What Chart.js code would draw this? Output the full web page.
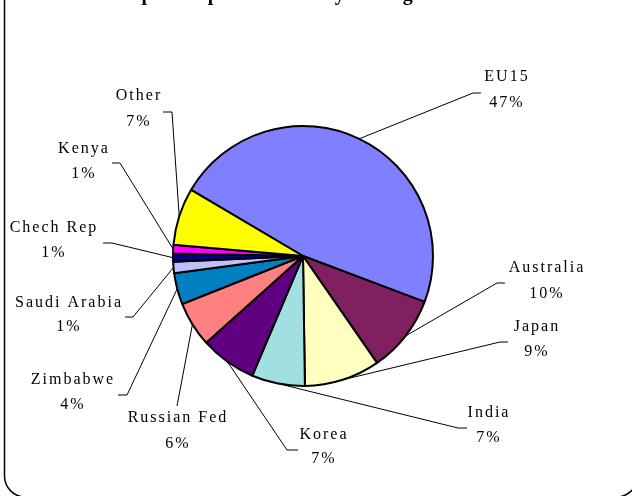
<!DOCTYPE html>
<html>
<head>
<meta charset="utf-8">
<script src="https://cdn.jsdelivr.net/npm/chart.js@4.4.1/dist/chart.umd.min.js"></script>
<style>
  html, body { margin: 0; padding: 0; background: #fff; }
  #wrap { width: 632px; height: 496px; }
</style>
</head>
<body>
<div id="wrap"><canvas id="pie" width="632" height="496"></canvas></div>
<script>
const titleText = 'Top ten export markets by trading bloc';
const regions = ['EU15', 'Australia', 'Japan', 'India', 'Korea', 'Russian Fed',
  'Zimbabwe', 'Saudi Arabia', 'Chech Rep', 'Kenya', 'Other'];
const shares = [47.2, 9.6, 9.4, 6.6, 7.0, 5.6, 3.9, 1.4, 1.0, 1.1, 7.1];
const shareLabels = ['47%', '10%', '9%', '7%', '7%', '6%', '4%', '1%', '1%', '1%', '7%'];
const sliceColors = ['#8080FF', '#802060', '#FFFFC0', '#A0E0E0', '#600080', '#FF8080',
  '#0080C0', '#C0C0FF', '#000080', '#FF00FF', '#FFFF00'];

// label placement: [text centre x, name y, percent y, elbow x near text, elbow x near pie, elbow y]
const labelLayout = [
  [506, 77, 103, 481, 473, 93],
  [546, 268, 294, 505, 497, 283],
  [536, 327, 352, 508, 500, 342],
  [488, 413, 438, 467, 458, 428],
  [323, 435, 459, 298, 287, 450],
  [177, 418, 444, 177, 177, 406],
  [72, 380, 405, 118, 127, 395],
  [68, 303, 327, 125, 133, 317],
  [53, 228, 253, 103, 112, 243],
  [83, 149, 174, 112, 120, 163],
  [138, 96, 122, 163, 172, 112]
];

const frame = {
  id: 'frame',
  beforeDraw: chart => {
    const ctx = chart.ctx;
    ctx.save();
    ctx.fillStyle = '#fff';
    ctx.fillRect(0, 0, chart.width, chart.height);
    ctx.beginPath();
    ctx.roundRect(4.5, -60, 633, 557, 21);
    ctx.strokeStyle = '#000';
    ctx.lineWidth = 1.5;
    ctx.stroke();
    // title sits mostly above the visible area, only descenders show
    ctx.font = 'bold 18px "Liberation Serif"';
    const firstP = ctx.measureText('To').width + ctx.measureText('p').width / 2;
    const lastG = ctx.measureText('Top ten export markets by tradin').width + ctx.measureText('g').width / 2;
    const size = 18 * 261 / (lastG - firstP);
    ctx.font = 'bold ' + size.toFixed(1) + 'px "Liberation Serif"';
    const x0 = 147 - firstP * size / 18;
    ctx.fillStyle = '#000';
    ctx.textBaseline = 'alphabetic';
    ctx.fillText(titleText, x0, 0);
    ctx.restore();
  }
};

const labels = {
  id: 'labels',
  afterDraw: chart => {
    const ctx = chart.ctx;
    const arcs = chart.getDatasetMeta(0).data;
    ctx.save();
    ctx.strokeStyle = '#000';
    ctx.lineWidth = 1;
    ctx.fillStyle = '#000';
    ctx.font = '16px "Liberation Serif"';
    ctx.letterSpacing = '2px';
    ctx.textAlign = 'center';
    ctx.textBaseline = 'middle';
    arcs.forEach((arc, i) => {
      const p = arc.getProps(['x', 'y', 'startAngle', 'endAngle', 'outerRadius'], true);
      const mid = (p.startAngle + p.endAngle) / 2;
      const ex = p.x + Math.cos(mid) * p.outerRadius;
      const ey = p.y + Math.sin(mid) * p.outerRadius;
      const l = labelLayout[i];
      ctx.beginPath();
      ctx.moveTo(ex, ey);
      ctx.lineTo(l[4], l[5]);
      ctx.lineTo(l[3], l[5]);
      ctx.stroke();
      ctx.fillText(regions[i], l[0] + 1, l[1]);
      ctx.fillText(shareLabels[i], l[0] + 1, l[2]);
    });
    ctx.restore();
  }
};

new Chart(document.getElementById('pie'), {
  type: 'pie',
  plugins: [frame, labels],
  data: {
    labels: regions,
    datasets: [{
      data: shares,
      backgroundColor: sliceColors,
      borderColor: '#000',
      borderWidth: 2
    }]
  },
  options: {
    responsive: false,
    animation: false,
    rotation: -59.4,
    radius: 130,
    layout: {
      padding: { left: 168, right: 194, top: 121, bottom: 105 }
    },
    plugins: {
      legend: { display: false },
      tooltip: { enabled: false }
    }
  }
});
</script>
</body>
</html>
